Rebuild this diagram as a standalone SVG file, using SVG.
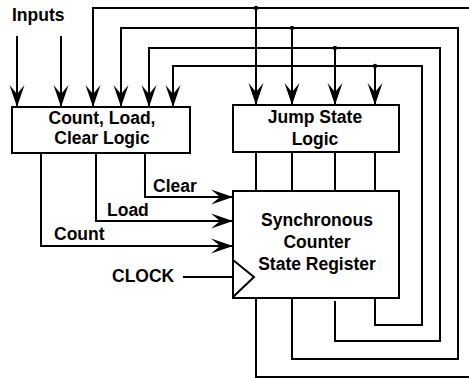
<svg xmlns="http://www.w3.org/2000/svg" width="469" height="378" viewBox="0 0 469 378">
  <style>
    .box { fill: #fff; stroke: #000; stroke-width: 2; }
    .wire { fill: none; stroke: #000; stroke-width: 2; }
    .arrow { marker-end: url(#head); }
    text { font-family: "Liberation Sans", Arial, sans-serif; font-weight: bold; font-size: 17.5px; fill: #000; }
    .mid { text-anchor: middle; }
  </style>
  <defs>
    <marker id="head" viewBox="-23 -8 24 16" refX="0" refY="0" markerWidth="24" markerHeight="16" markerUnits="userSpaceOnUse" orient="auto">
      <path d="M0,0 L-22,-7.5 L-13,0 L-22,7.5 Z" fill="#000"/>
    </marker>
  </defs>
  <rect width="469" height="378" fill="#fff"/>

  <text x="12" y="21">Inputs</text>

  <g id="connectors">
    <!-- external inputs -->
    <path class="wire arrow" d="M17,36 V107"/>
    <path class="wire arrow" d="M61,36 V107"/>
    <!-- state feedback buses from the register outputs -->
    <path class="wire arrow" d="M256,298 V377 H472 V8 H93 V107"/>
    <path class="wire arrow" d="M292,298 V359 H458 V28 H121 V107"/>
    <path class="wire arrow" d="M335,301 V341 H440 V48 H149 V107"/>
    <path class="wire arrow" d="M375,298 V325 H422 V66 H173 V107"/>
    <!-- taps into jump state logic -->
    <path class="wire arrow" d="M256,8 V105"/>
    <path class="wire arrow" d="M292,28 V105"/>
    <path class="wire arrow" d="M335,48 V105"/>
    <path class="wire arrow" d="M375,66 V105"/>
    <circle cx="256" cy="8" r="2.2"/>
    <circle cx="292" cy="28" r="2.2"/>
    <circle cx="335" cy="48" r="2.2"/>
    <circle cx="375" cy="66" r="2.2"/>
    <!-- jump state logic to register -->
    <path class="wire" d="M256,152 V191 M292,152 V191 M335,152 V191 M375,152 V191"/>
    <!-- control signals -->
    <path class="wire arrow" d="M145,153 V197 H233"/>
    <path class="wire arrow" d="M96,153 V221 H233"/>
    <path class="wire arrow" d="M41,153 V246 H233"/>
    <path class="wire" d="M183,277 H233"/>
  </g>

  <text x="153" y="192">Clear</text>
  <text x="107" y="216">Load</text>
  <text x="54" y="240">Count</text>
  <text x="112" y="282">CLOCK</text>

  <g id="count-load-clear">
    <rect class="box" x="12" y="107" width="178" height="46"/>
    <text class="mid" x="102" y="124">Count, Load,</text>
    <text class="mid" x="102" y="144">Clear Logic</text>
  </g>

  <g id="jump-state">
    <rect class="box" x="233" y="105" width="166" height="47"/>
    <text class="mid" x="315" y="123">Jump State</text>
    <text class="mid" x="315" y="145">Logic</text>
  </g>

  <g id="state-register">
    <rect class="box" x="233" y="191" width="166" height="107"/>
    <path class="wire" d="M233,260 L254,277 L233,297"/>
    <text class="mid" x="317" y="226">Synchronous</text>
    <text class="mid" x="317" y="248">Counter</text>
    <text class="mid" x="317" y="270">State Register</text>
  </g>
</svg>
